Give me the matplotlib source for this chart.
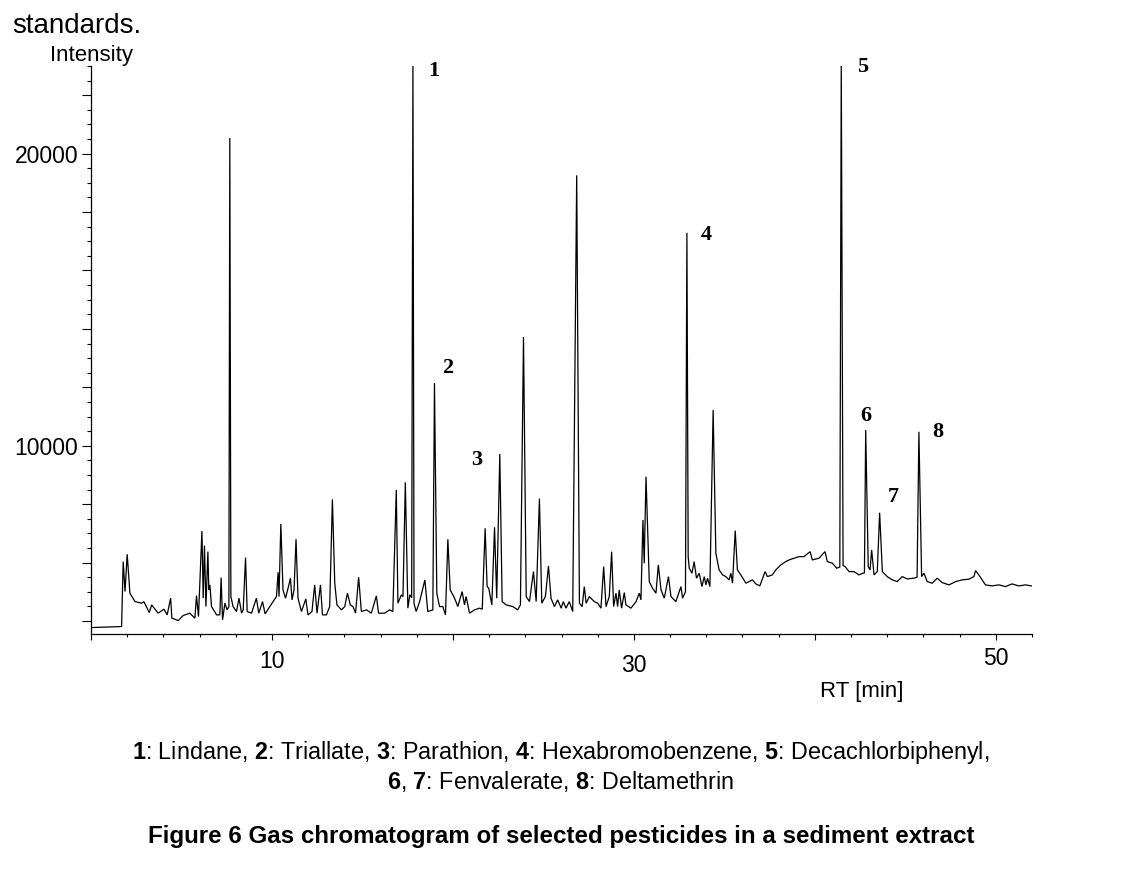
import matplotlib
matplotlib.use("Agg")
import matplotlib.pyplot as plt
from matplotlib.ticker import MultipleLocator, FuncFormatter

plt.rcParams['font.family'] = ['Liberation Sans', 'DejaVu Sans']
plt.rcParams['mathtext.fontset'] = 'custom'
plt.rcParams['mathtext.rm'] = 'Liberation Sans'
plt.rcParams['mathtext.bf'] = 'Liberation Sans:bold'

# ---- chromatogram trace (RT [min], intensity) ----
rt = [0.04, 1.69, 1.78, 1.88, 2.00, 2.15, 2.43, 2.80, 2.92, 3.22, 3.35, 3.71, 4.03, 4.21, 4.40,
      4.47, 4.82, 5.09, 5.46, 5.74, 5.83, 5.94, 6.13, 6.20, 6.27, 6.35, 6.46, 6.51, 6.57, 6.66,
      6.94, 7.12, 7.19, 7.27, 7.40, 7.52, 7.62, 7.67, 7.73, 7.85, 8.04, 8.18, 8.32, 8.41, 8.54,
      8.63, 8.87, 9.14, 9.27, 9.48, 9.62, 9.88, 10.06, 10.25, 10.34, 10.39, 10.49, 10.61, 10.75,
      10.89, 11.02, 11.11, 11.22, 11.33, 11.44, 11.63, 11.87, 11.99, 12.21, 12.36, 12.49, 12.68,
      12.79, 13.01, 13.19, 13.34, 13.47, 13.59, 13.84, 14.02, 14.17, 14.33, 14.48, 14.62, 14.79,
      14.94, 15.22, 15.49, 15.77, 15.89, 16.23, 16.50, 16.68, 16.87, 16.96, 17.15, 17.24, 17.37,
      17.51, 17.62, 17.72, 17.79, 17.85, 17.97, 18.16, 18.45, 18.61, 18.89, 18.98, 19.11, 19.26,
      19.44, 19.59, 19.72, 19.85, 20.09, 20.27, 20.51, 20.64, 20.73, 20.92, 21.19, 21.47, 21.62,
      21.78, 21.89, 21.98, 22.15, 22.30, 22.42, 22.59, 22.72, 22.94, 23.31, 23.58, 23.73, 23.90,
      24.05, 24.23, 24.45, 24.60, 24.78, 24.91, 25.11, 25.28, 25.42, 25.61, 25.79, 25.98, 26.10,
      26.25, 26.43, 26.62, 26.84, 26.99, 27.14, 27.26, 27.36, 27.54, 27.81, 28.00, 28.18, 28.33,
      28.46, 28.64, 28.77, 28.88, 29.01, 29.10, 29.19, 29.32, 29.47, 29.56, 29.84, 30.12, 30.30,
      30.39, 30.50, 30.57, 30.67, 30.85, 31.03, 31.22, 31.35, 31.50, 31.68, 31.91, 32.05, 32.32,
      32.60, 32.69, 32.85, 32.93, 33.00, 33.06, 33.21, 33.33, 33.46, 33.61, 33.76, 33.89, 33.98,
      34.07, 34.20, 34.38, 34.53, 34.71, 34.90, 35.08, 35.26, 35.36, 35.45, 35.60, 35.72, 35.91,
      36.19, 36.55, 36.74, 36.96, 37.25, 37.38, 37.65, 37.84, 38.12, 38.39, 38.58, 38.85, 39.13,
      39.40, 39.74, 39.86, 40.23, 40.56, 40.69, 40.97, 41.21, 41.38, 41.46, 41.56, 41.67, 41.89,
      42.16, 42.44, 42.66, 42.74, 42.81, 42.95, 43.05, 43.14, 43.27, 43.45, 43.58, 43.73, 44.00,
      44.28, 44.55, 44.83, 45.10, 45.47, 45.65, 45.75, 45.90, 46.03, 46.21, 46.48, 46.76, 47.04,
      47.41, 47.78, 48.14, 48.51, 48.79, 48.88, 49.06, 49.43, 49.79, 50.17, 50.53, 50.90, 51.27,
      51.64, 51.97]

intensity = [3776, 3810, 6033, 5007, 6286, 4952, 4665, 4610, 4665, 4289, 4552, 4268, 4405, 4210, 4781,
             4097, 4015, 4186, 4268, 4097, 4870, 4152, 7083, 4781, 6580, 4494, 6375, 5065, 5236, 4494,
             4210, 4210, 5486, 4039, 4610, 4381, 4494, 20534, 4836, 4494, 4323, 4781, 4268, 4381, 6170,
             4323, 4268, 4781, 4268, 4665, 4244, 4494, 4665, 4836, 5670, 4836, 7322, 5065, 4781,
             5123, 5465, 4723, 5065, 6799, 4781, 4323, 4757, 4210, 4323, 5236, 4268, 5236,
             4210, 4210, 4494, 8167, 5294, 4552, 4381, 4494, 4952, 4552, 4494, 4268, 5499,
             4323, 4381, 4268, 4860, 4268, 4268, 4381, 4323, 8485, 4610, 4894, 4836, 8748,
             4439, 4900, 4800, 23100, 4600, 4323, 4665, 5407, 4323, 4381, 12144, 4952, 4494,
             4494, 4210, 6799, 5065, 4781, 4494, 5007, 4552, 4836, 4268, 4381, 4439, 4405,
             7175, 5178, 5123, 4552, 7209, 4781, 9716, 4665, 4552, 4494, 4381, 4552, 13724,
             4836, 4665, 5691, 4665, 8191, 4610, 4836, 5886, 4781, 4494, 4723, 4439, 4665,
             4439, 4665, 4323, 19258, 4610, 4494, 5178, 4610, 4836, 4665, 4610, 4439, 5862,
             4494, 4836, 6375, 4494, 4952, 4494, 5065, 4439, 4973, 4552, 4439, 4665, 4952,
             4723, 7459, 5978, 8940, 5349, 5123, 4952, 5920, 5065, 4781, 5520, 4836, 4665,
             5178, 4781, 5000, 17291, 6200, 5807, 5636, 6033, 5465, 5636, 5178, 5520, 5236,
             5465, 5178, 11221, 6320, 5749, 5578, 5520, 5407, 5636, 5294, 7093, 5749, 5578,
             5294, 5407, 5270, 5202, 5691, 5520, 5578, 5749, 5920, 6033, 6091, 6149, 6204,
             6204, 6375, 6091, 6149, 6375, 6033, 5978, 5807, 5850, 23100, 5900, 5862, 5691,
             5691, 5578, 5636, 5650, 10537, 5862, 5749, 6433, 5578, 5691, 7709, 5691, 5520,
             5407, 5349, 5520, 5441, 5465, 5500, 10478, 5520, 5636, 5349, 5294, 5465, 5315,
             5236, 5349, 5407, 5431, 5520, 5725, 5578, 5236, 5202, 5236, 5178, 5270, 5202,
             5236, 5202]

# peak numbers and their label anchor positions (RT, intensity)
peak_ids = ["1", "2", "3", "4", "5", "6", "7", "8"]
peak_label_rt = [18.93, 19.70, 21.30, 33.99, 42.66, 42.83, 44.32, 46.80]
peak_label_int = [22815, 12657, 9511, 17206, 22952, 11016, 8246, 10469]

x_labeled_ticks = [10, 30, 50]
y_labeled_ticks = [10000, 20000]

legend_line1 = (r"$\mathbf{1}$: Lindane, $\mathbf{2}$: Triallate, $\mathbf{3}$: Parathion, "
                r"$\mathbf{4}$: Hexabromobenzene, $\mathbf{5}$: Decachlorbiphenyl,")
legend_line2 = r"$\mathbf{6}$, $\mathbf{7}$: Fenvalerate, $\mathbf{8}$: Deltamethrin"
caption = "Figure 6 Gas chromatogram of selected pesticides in a sediment extract"

fig = plt.figure(figsize=(11.23, 8.74), dpi=100)
W, H = 1123, 874
ax = fig.add_axes([91 / W, 1 - 634 / H, (1032 - 91) / W, (634 - 66) / H])

ax.plot(rt, intensity, color="black", linewidth=0.9, solid_joinstyle="miter")
ax.set_xlim(0, 52)
ax.set_ylim(3555, 23000)

for s in ("top", "right"):
    ax.spines[s].set_visible(False)
for s in ("left", "bottom"):
    ax.spines[s].set_linewidth(0.9)

ax.xaxis.set_major_locator(MultipleLocator(10))
ax.xaxis.set_minor_locator(MultipleLocator(2))
ax.yaxis.set_major_locator(MultipleLocator(2000))
ax.yaxis.set_minor_locator(MultipleLocator(500))
ax.yaxis.set_major_formatter(FuncFormatter(
    lambda v, p: f"{int(round(v))}" if int(round(v)) in y_labeled_ticks else ""))
ax.tick_params(axis="x", which="major", direction="out", length=4.2, width=0.8, labelbottom=False)
ax.tick_params(axis="x", which="minor", direction="out", length=2.4, width=0.8)
ax.tick_params(axis="y", which="major", direction="out", length=6.5, width=0.8,
               labelsize=16.5, pad=2.5)
ax.tick_params(axis="y", which="minor", direction="out", length=3.0, width=0.8)

# x tick labels (slightly staggered as in the original)
x_label_offsets = [-0.0484, -0.0554, -0.0440]
for v, off in zip(x_labeled_ticks, x_label_offsets):
    ax.text(v, off, str(v), transform=ax.get_xaxis_transform(), ha="center", va="center",
            fontsize=16.5)

# peak numbers
for lab, x, y in zip(peak_ids, peak_label_rt, peak_label_int):
    ax.text(x, y, lab, ha="center", va="center", fontsize=16, fontweight="bold",
            family="Liberation Serif", clip_on=False)

fig.text(12 / W, 1 - 33 / H, "standards.", ha="left", va="baseline", fontsize=20)
fig.text(50 / W, 1 - 61 / H, "Intensity", ha="left", va="baseline", fontsize=16)
fig.text(862 / W, 1 - 692 / H, "RT [min]", ha="center", va="center", fontsize=16)
fig.text(561 / W, 1 - 752 / H, legend_line1, ha="center", va="center", fontsize=16.8)
fig.text(561 / W, 1 - 782 / H, legend_line2, ha="center", va="center", fontsize=16.8)
fig.text(561 / W, 1 - 837 / H, caption, ha="center", va="center", fontsize=17.4,
         fontweight="bold")

fig.savefig("out.png", dpi=100)
